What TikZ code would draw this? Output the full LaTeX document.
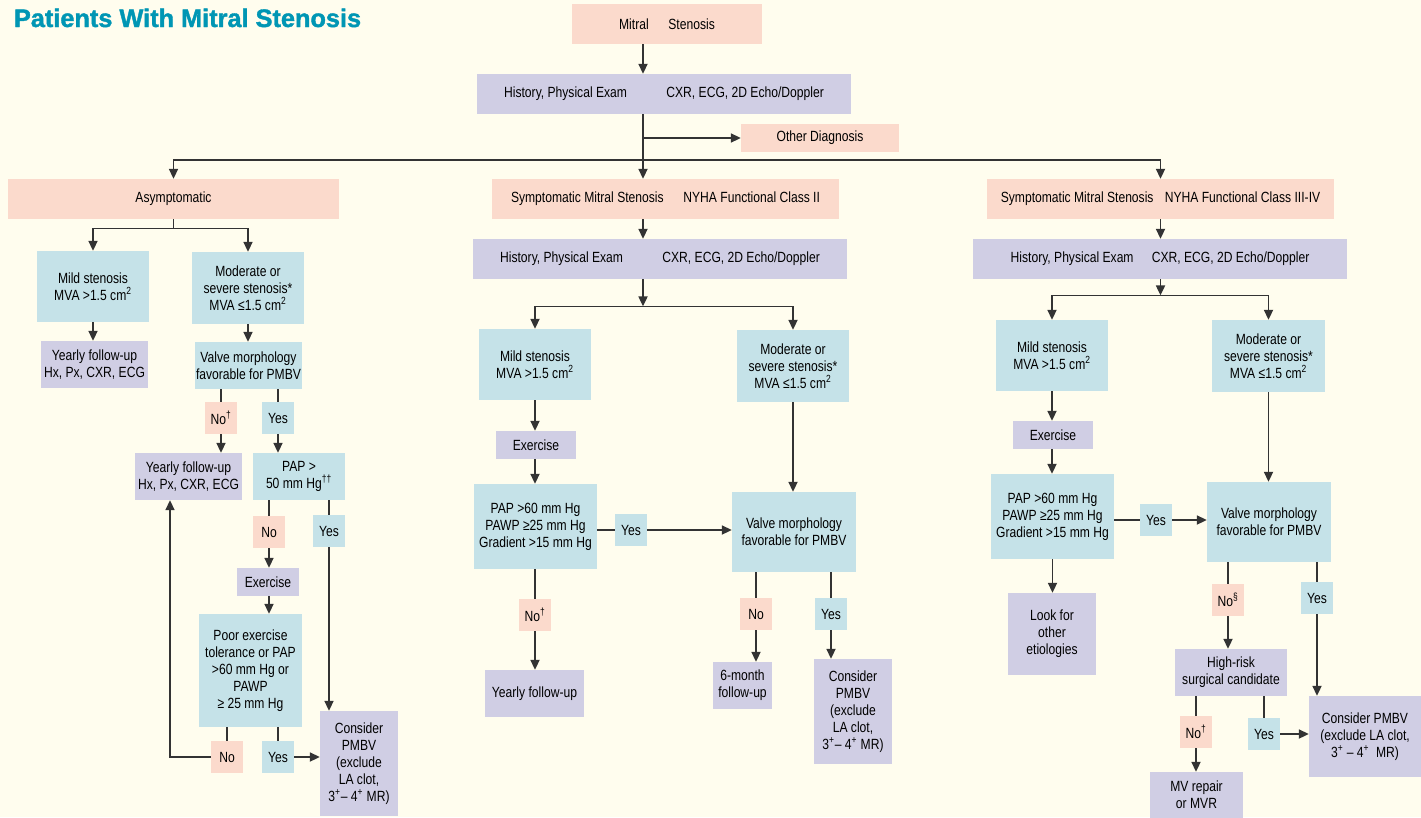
\documentclass[tikz,border=0pt]{standalone}
\usepackage{fontspec}
\setmainfont{Liberation Sans}[FakeStretch=0.82]
\newfontfamily\titlefont{Liberation Sans}[BoldFeatures={FakeBold=1.5}]
\usepackage{tikz}
\usetikzlibrary{arrows.meta}
\definecolor{bgc}{RGB}{255,253,238}
\definecolor{pinkc}{RGB}{251,218,204}
\definecolor{lilacc}{RGB}{208,206,228}
\definecolor{bluec}{RGB}{197,226,232}
\definecolor{titlec}{RGB}{0,150,180}

\begin{document}
\begin{tikzpicture}[x=0.025cm, y=-0.025cm,
  box/.style={inner sep=0pt, align=center, font=\fontsize{10.5}{12}\selectfont},
  sz/.style 2 args={minimum width=#1*0.025cm, minimum height=#2*0.025cm},
  pinkbox/.style={box, fill=pinkc},
  lilacbox/.style={box, fill=lilacc},
  bluebox/.style={box, fill=bluec},
  ln/.style={draw=black!80, line width=0.9pt},
  arr/.style={ln, -{Triangle[length=7pt, width=6.5pt]}}
]
  \fill[bgc] (0,0) rectangle (1421,817);
  \useasboundingbox (0,0) rectangle (1421,817);
  \node[anchor=base west, text=titlec, font=\titlefont\bfseries\fontsize{18}{21}\selectfont] (title) at (9,27) {Patients With Mitral Stenosis};

  % top
  \node[pinkbox, sz={190}{40}] (ms) at (667,24) {Mitral\hspace{14pt}Stenosis};
  \node[lilacbox, sz={374}{40}] (hpe1) at (664,94) {History, Physical Exam\hspace{28pt}CXR, ECG, 2D Echo/Doppler};
  \node[pinkbox, sz={158}{28}] (other) at (820,138) {Other Diagnosis};
  \node[pinkbox, sz={331}{40}] (asym) at (173.5,199) {Asymptomatic};
  \node[pinkbox, sz={347}{40}] (sym2) at (665.5,199) {Symptomatic Mitral Stenosis\hspace{14pt}NYHA Functional Class II};
  \node[pinkbox, sz={347}{40}] (sym34) at (1160.5,199) {Symptomatic Mitral Stenosis\hspace{8pt}NYHA Functional Class III-IV};
  \coordinate (tr) at (643,160);
  \draw[arr] (ms.south -| tr) -- (hpe1.north -| tr);
  \draw[arr] (hpe1.south -| tr) -- (sym2.north -| tr);
  \draw[arr] (tr |- other.west) -- (other.west);
  \draw[arr] (tr) -| (asym.north);
  \draw[arr] (tr) -| (sym34.north);

  % asymptomatic
  \node[bluebox, sz={112}{71}] (mild1) at (93,286.5) {Mild stenosis\\MVA >1.5 cm\textsuperscript{2}};
  \node[bluebox, sz={112}{72}] (mod1) at (248,288) {Moderate or\\severe stenosis*\\MVA ≤1.5 cm\textsuperscript{2}};
  \node[lilacbox, sz={107}{47}] (yfu1) at (94.5,364.5) {Yearly follow-up\\Hx, Px, CXR, ECG};
  \node[bluebox, sz={107}{47}] (vm1) at (248.5,365.5) {Valve morphology\\favorable for PMBV};
  \node[pinkbox, sz={32}{32}] (no1) at (221,418) {No\textsuperscript{†}};
  \node[bluebox, sz={32}{32}] (yes1) at (278,418) {Yes};
  \node[lilacbox, sz={107}{47}] (yfu2) at (188.5,476.5) {Yearly follow-up\\Hx, Px, CXR, ECG};
  \node[bluebox, sz={92}{47}] (pap1) at (299,476.5) {PAP >\\50 mm Hg\textsuperscript{††}};
  \node[pinkbox, sz={32}{32}] (no2) at (269,532) {No};
  \node[bluebox, sz={32}{32}] (yes2) at (329,531) {Yes};
  \node[lilacbox, sz={62}{28}] (exer1) at (268,582) {Exercise};
  \node[bluebox, sz={103}{113}] (poor) at (250.5,670.5) {Poor exercise\\tolerance or PAP\\>60 mm Hg or\\PAWP\\≥ 25 mm Hg};
  \node[pinkbox, sz={32}{32}] (no3) at (227,757) {No};
  \node[bluebox, sz={32}{32}] (yes3) at (278,757) {Yes};
  \node[lilacbox, sz={78}{105}] (cons1) at (359,763.5) {Consider\\PMBV\\(exclude\\LA clot,\\3\textsuperscript{+}– 4\textsuperscript{+} MR)};
  \coordinate (lp) at (170,757);
  \draw[ln] (asym.south) -- ++(0,9) coordinate (asb);
  \draw[arr] (asb) -| (mild1.north);
  \draw[arr] (asb) -| (mod1.north);
  \draw[arr] (mild1.south) -- (mild1.south |- yfu1.north);
  \draw[arr] (mod1.south) -- (mod1.south |- vm1.north);
  \draw[ln] (vm1.south -| no1) -- (no1);
  \draw[arr] (no1) -- (no1 |- yfu2.north);
  \draw[ln] (vm1.south -| yes1) -- (yes1);
  \draw[arr] (yes1) -- (yes1 |- pap1.north);
  \draw[ln] (pap1.south -| no2) -- (no2);
  \draw[arr] (no2) -- (no2 |- exer1.north);
  \draw[arr] (exer1.south -| no2) -- (poor.north -| no2);
  \draw[ln] (pap1.south -| yes2) -- (yes2);
  \draw[arr] (yes2) -- (yes2 |- cons1.north);
  \draw[ln] (poor.south -| no3) -- (no3);
  \draw[arr] (no3.west) -- (lp) -- (lp |- yfu2.south);
  \draw[ln] (poor.south -| yes3) -- (yes3);
  \draw[arr] (yes3.east) -- (yes3.east -| cons1.west);

  % class II
  \node[lilacbox, sz={374}{40}] (hpe2) at (660,259) {History, Physical Exam\hspace{28pt}CXR, ECG, 2D Echo/Doppler};
  \node[bluebox, sz={112}{71}] (mild2) at (535,364.5) {Mild stenosis\\MVA >1.5 cm\textsuperscript{2}};
  \node[bluebox, sz={112}{72}] (mod2) at (793,366) {Moderate or\\severe stenosis*\\MVA ≤1.5 cm\textsuperscript{2}};
  \node[lilacbox, sz={80}{28}] (exer2) at (536,445) {Exercise};
  \node[bluebox, sz={123}{85}] (pap2) at (535.5,526.5) {PAP >60 mm Hg\\PAWP ≥25 mm Hg\\Gradient >15 mm Hg};
  \node[bluebox, sz={32}{32}] (yes4) at (631,530) {Yes};
  \node[bluebox, sz={124}{80}] (vm2) at (794,532) {Valve morphology\\favorable for PMBV};
  \node[pinkbox, sz={32}{32}] (no4) at (535,615) {No\textsuperscript{†}};
  \node[pinkbox, sz={32}{32}] (no5) at (756,614) {No};
  \node[bluebox, sz={32}{32}] (yes5) at (831,614) {Yes};
  \node[lilacbox, sz={99}{47}] (yfu3) at (534.5,693.5) {Yearly follow-up};
  \node[lilacbox, sz={59}{47}] (six) at (742.5,685.5) {6-month\\follow-up};
  \node[lilacbox, sz={78}{105}] (cons2) at (853,711.5) {Consider\\PMBV\\(exclude\\LA clot,\\3\textsuperscript{+}– 4\textsuperscript{+} MR)};
  \draw[arr] (sym2.south -| tr) -- (hpe2.north -| tr);
  \draw[arr] (hpe2.south -| tr) -- ++(0,27) coordinate (mb);
  \draw[arr] (mb) -| (mild2.north);
  \draw[arr] (mb) -| (mod2.north);
  \draw[arr] (mild2.south) -- (mild2.south |- exer2.north);
  \draw[arr] (exer2.south -| mild2) -- (pap2.north -| mild2);
  \draw[ln] (pap2.east |- yes4) -- (yes4);
  \draw[arr] (yes4) -- (yes4 -| vm2.west);
  \draw[arr] (mod2.south) -- (mod2.south |- vm2.north);
  \draw[ln] (pap2.south -| no4) -- (no4);
  \draw[arr] (no4) -- (no4 |- yfu3.north);
  \draw[ln] (vm2.south -| no5) -- (no5);
  \draw[arr] (no5) -- (no5 |- six.north);
  \draw[ln] (vm2.south -| yes5) -- (yes5);
  \draw[arr] (yes5) -- (yes5 |- cons2.north);

  % class III-IV
  \node[lilacbox, sz={374}{40}] (hpe3) at (1160,259) {History, Physical Exam\hspace{13pt}CXR, ECG, 2D Echo/Doppler};
  \node[bluebox, sz={112}{71}] (mild3) at (1052,355.5) {Mild stenosis\\MVA >1.5 cm\textsuperscript{2}};
  \node[bluebox, sz={113}{72}] (mod3) at (1268.5,356) {Moderate or\\severe stenosis*\\MVA ≤1.5 cm\textsuperscript{2}};
  \node[lilacbox, sz={80}{28}] (exer3) at (1053,435) {Exercise};
  \node[bluebox, sz={123}{85}] (pap3) at (1052.5,516.5) {PAP >60 mm Hg\\PAWP ≥25 mm Hg\\Gradient >15 mm Hg};
  \node[bluebox, sz={32}{32}] (yes6) at (1156,520) {Yes};
  \node[bluebox, sz={124}{80}] (vm3) at (1269,522) {Valve morphology\\favorable for PMBV};
  \node[lilacbox, sz={88}{82}] (look) at (1052,634) {Look for\\other\\etiologies};
  \node[pinkbox, sz={32}{32}] (no6) at (1228,600) {No\textsuperscript{§}};
  \node[bluebox, sz={32}{32}] (yes7) at (1317,598) {Yes};
  \node[lilacbox, sz={112}{47}] (hr) at (1231,672.5) {High-risk\\surgical candidate};
  \node[pinkbox, sz={32}{32}] (no7) at (1196,732) {No\textsuperscript{†}};
  \node[bluebox, sz={32}{32}] (yes8) at (1264,734) {Yes};
  \node[lilacbox, sz={112}{81}] (cons3) at (1365,736.5) {Consider PMBV\\(exclude LA clot,\\3\textsuperscript{+} – 4\textsuperscript{+}\ \ MR)};
  \node[lilacbox, sz={93}{46}] (mvr) at (1196.5,795) {MV repair\\or MVR};
  \draw[arr] (sym34.south) -- (hpe3.north -| sym34.south);
  \draw[arr] (hpe3.south -| sym34.south) -- ++(0,16) coordinate (rb);
  \draw[arr] (rb) -| (mild3.north);
  \draw[arr] (rb) -| (mod3.north);
  \draw[arr] (mild3.south) -- (mild3.south |- exer3.north);
  \draw[arr] (exer3.south -| mild3) -- (pap3.north -| mild3);
  \draw[arr] (pap3.south) -- (pap3.south |- look.north);
  \draw[ln] (pap3.east |- yes6) -- (yes6);
  \draw[arr] (yes6) -- (yes6 -| vm3.west);
  \draw[arr] (mod3.south) -- (mod3.south |- vm3.north);
  \draw[ln] (vm3.south -| no6) -- (no6);
  \draw[arr] (no6) -- (no6 |- hr.north);
  \draw[ln] (vm3.south -| yes7) -- (yes7);
  \draw[arr] (yes7) -- (yes7 |- cons3.north);
  \draw[ln] (hr.south -| no7) -- (no7);
  \draw[arr] (no7) -- (no7 |- mvr.north);
  \draw[ln] (hr.south -| yes8) -- (yes8);
  \draw[arr] (yes8.east) -- (yes8.east -| cons3.west);
\end{tikzpicture}
\end{document}
